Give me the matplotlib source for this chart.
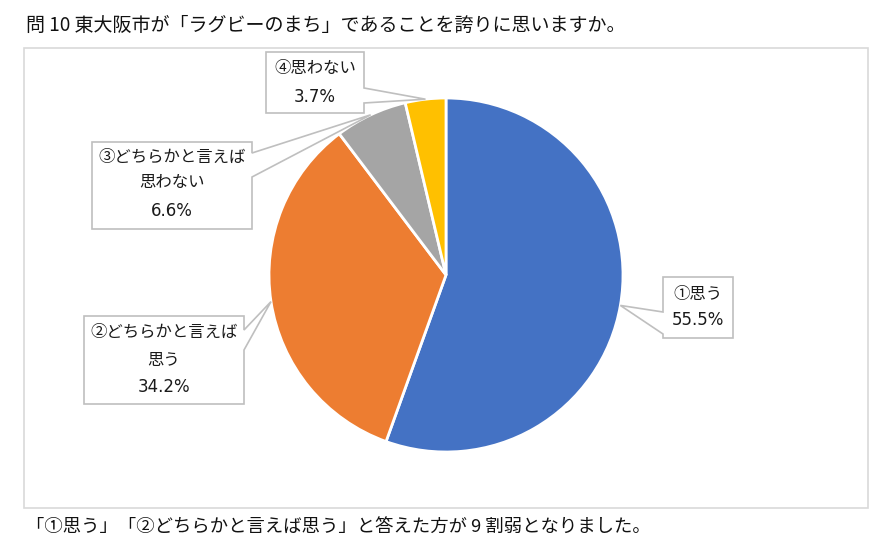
import matplotlib
matplotlib.use('Agg')
import matplotlib.pyplot as plt
import numpy as np
from matplotlib.patches import Polygon, Rectangle

plt.rcParams['font.family'] = ['Noto Sans CJK JP', 'DejaVu Sans']

# data
names = ['①思う', '②どちらかと言えば\n思う', '③どちらかと言えば\n思わない', '④思わない']
values = [55.5, 34.2, 6.6, 3.7]
colors = ['#4472C4', '#ED7D31', '#A5A5A5', '#FFC000']

title = '問 10 東大阪市が「ラグビーのまち」であることを誇りに思いますか。'
note = '「①思う」「②どちらかと言えば思う」と答えた方が 9 割弱となりました。'

W, H = 894, 559

def py(y):
    return H - y

fig = plt.figure(figsize=(W / 100, H / 100), dpi=100)
ax = fig.add_axes([0, 0, 1, 1])

cx, cy, r = 446, 275, 177
wedges, _ = ax.pie(values, colors=colors, startangle=90, counterclock=False,
                   center=(cx, py(cy)), radius=r,
                   wedgeprops=dict(edgecolor='white', linewidth=2))
for w in wedges:
    w.set_zorder(3)

ax.set_xlim(0, W)
ax.set_ylim(0, H)
ax.set_aspect('equal')
ax.axis('off')

# chart frame
ax.add_patch(Rectangle((24, py(508)), 868 - 24, 508 - 48, fill=False,
                       edgecolor='#D9D9D9', linewidth=1.2, zorder=1))

# callout boxes: (x0, x1, y0, y1), side of pointer, pointer base, text line ys
boxes = [
    ((663, 733, 277, 338), 'left', (312, 334), [295, 320]),
    ((84, 244, 316, 404), 'right', (330, 350), [332, 360, 387]),
    ((92, 252, 142, 229), 'right', (153, 177), [157, 183, 211]),
    ((266, 364, 52, 113), 'right', (88, 103), [68, 97]),
]

for w, name, val, (box, side, (ya, yb), ys) in zip(wedges, names, values, boxes):
    mid = np.deg2rad((w.theta1 + w.theta2) / 2)
    ax_pt = (cx + r * np.cos(mid), py(cy) + r * np.sin(mid))
    x0, x1, y0, y1 = box
    if side == 'right':
        pts = [(x0, py(y0)), (x1, py(y0)), (x1, py(ya)), ax_pt,
               (x1, py(yb)), (x1, py(y1)), (x0, py(y1))]
    else:
        pts = [(x0, py(y0)), (x1, py(y0)), (x1, py(y1)), (x0, py(y1)),
               (x0, py(yb)), ax_pt, (x0, py(ya))]
    ax.add_patch(Polygon(pts, closed=True, facecolor='white',
                         edgecolor='#BFBFBF', linewidth=1.2, zorder=4))
    lines = name.split('\n')
    xc = (x0 + x1) / 2
    for t, yy in zip(lines, ys):
        ax.text(xc, py(yy), t, ha='center', va='center', fontsize=11.8,
                color='#1a1a1a', zorder=5)
    ax.text(xc, py(ys[-1]), f'{val:.1f}%', ha='center', va='center',
            fontsize=12, family='DejaVu Sans', color='#1a1a1a', zorder=5)

fig.text(26 / W, 1 - 25 / H, title, ha='left', va='center', fontsize=13.7,
         color='#111111')
fig.text(26 / W, 1 - 527 / H, note, ha='left', va='center', fontsize=13.2,
         color='#111111')

fig.savefig('out.png', dpi=100, facecolor='white')
